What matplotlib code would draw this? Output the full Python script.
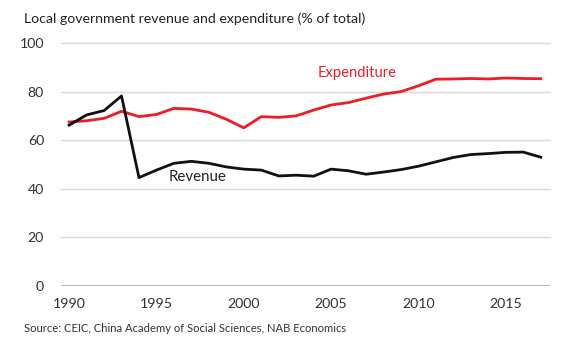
import matplotlib
matplotlib.use("Agg")
import matplotlib.pyplot as plt

years = list(range(1990, 2018))
revenue = [66.2, 70.4, 72.2, 78.2, 44.6, 47.7, 50.5, 51.3, 50.5, 49.0,
           48.1, 47.7, 45.3, 45.6, 45.2, 48.1, 47.4, 46.0, 46.9, 47.9,
           49.3, 51.1, 52.9, 54.1, 54.5, 55.0, 55.1, 53.0]
expenditure = [67.5, 68.0, 69.0, 71.9, 69.7, 70.6, 73.1, 72.8, 71.5, 68.6,
               65.1, 69.7, 69.4, 70.0, 72.4, 74.5, 75.5, 77.3, 79.0, 80.0,
               82.4, 85.1, 85.2, 85.4, 85.2, 85.6, 85.4, 85.3]
xticks = [1990, 1995, 2000, 2005, 2010, 2015]
yticks = [0, 20, 40, 60, 80, 100]

plt.rcParams['font.family'] = ['Lato', 'DejaVu Sans']

fig = plt.figure(figsize=(5.8, 3.52), dpi=100)
ax = fig.add_axes([0.1047, 0.1875, 0.8436, 0.6903])

for y in yticks[1:]:
    ax.axhline(y, color='#d9d9d9', lw=1.0, zorder=1, clip_on=False)
ax.axhline(0, color='#a6a6a6', lw=1.2, zorder=1)

ax.plot(years, expenditure, color='#ee1c25', lw=2.0, zorder=3, clip_on=False)
ax.plot(years, revenue, color='#111111', lw=2.0, zorder=3, clip_on=False)

ax.set_xlim(1989.52, 2017.53)
ax.set_ylim(0, 100)
ax.set_xticks(xticks)
ax.set_yticks(yticks)
ax.tick_params(axis='both', length=0, labelsize=10.2, colors='#333333')
ax.tick_params(axis='x', pad=9)
ax.tick_params(axis='y', pad=12)
for s in ax.spines.values():
    s.set_visible(False)

ax.text(2006.5, 87.7, 'Expenditure', color='#ee1c25', fontsize=10.6,
        ha='center', va='center')
ax.text(1995.7, 44.9, 'Revenue', color='#222222', fontsize=10.8,
        ha='left', va='center')

fig.text(24/580, 1 - 19/352, 'Local government revenue and expenditure (% of total)',
         fontsize=10.2, color='#222222', ha='left', va='center')
fig.text(24/580, 1 - 329/352, 'Source: CEIC, China Academy of Social Sciences, NAB Economics',
         fontsize=8.1, color='#333333', ha='left', va='center')

fig.savefig('out.png', dpi=100)
